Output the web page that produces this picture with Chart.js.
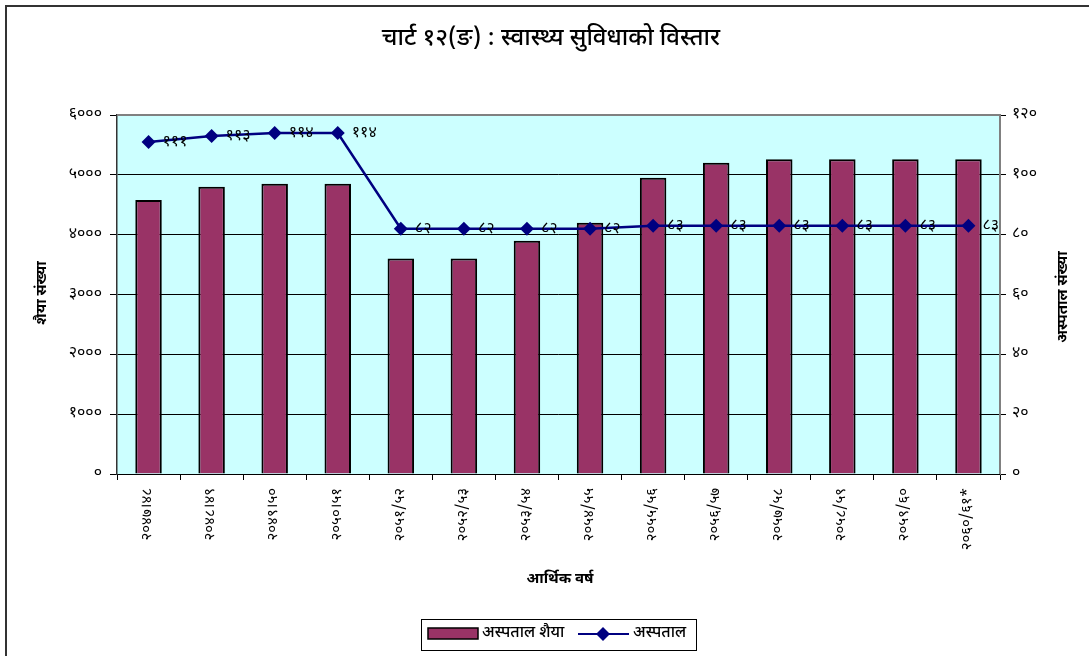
<!DOCTYPE html>
<html>
<head>
<meta charset="utf-8">
<title>स्वास्थ्य सुविधाको विस्तार</title>
<script src="https://cdn.jsdelivr.net/npm/chart.js@4.4.1/dist/chart.umd.min.js"></script>
<style>
  html, body { margin: 0; padding: 0; background: #fff; }
  #wrap { width: 1089px; height: 656px; }
</style>
</head>
<body>
<div id="wrap"><canvas id="myChart" width="1089" height="656"></canvas></div>
<script>
// आर्थिक वर्ष
const years = ['२०४७।४८', '२०४८।४९', '२०४९।५०', '२०५०।५१', '२०५१/५२', '२०५२/५३', '२०५३/५४',
               '२०५४/५५', '२०५५/५६', '२०५६/५७', '२०५७/५८', '२०५८/५९', '२०५९/६०', '२०६०/६१*'];
// अस्पताल शैया (बायाँ अक्ष)
const beds = [4580, 4800, 4850, 4850, 3600, 3600, 3900, 4200, 4950, 5200, 5260, 5260, 5260, 5260];
// अस्पताल संख्या (दायाँ अक्ष)
const hospitals = [111, 113, 114, 114, 82, 82, 82, 82, 83, 83, 83, 83, 83, 83];

const titleText = 'चार्ट १२(ङ) : स्वास्थ्य सुविधाको विस्तार';
const leftTitle = 'शैया संख्या';
const rightTitle = 'अस्पताल संख्या';
const xTitle = 'आर्थिक वर्ष';

const FONT = "'Noto Sans Devanagari', 'Lohit Devanagari', 'Noto Sans', 'FreeSans', sans-serif";
const BAR_COLOR = '#993366';
const LINE_COLOR = '#000080';

// अंकलाई देवनागरीमा बदल्ने
function toNepali(n) {
    const d = '०१२३४५६७८९';
    return String(n).replace(/[0-9]/g, c => d[+c]);
}

// प्लट क्षेत्रको पृष्ठभूमि र किनारा
const plotBg = {
    id: 'plotBg',
    beforeDraw(chart) {
        const { ctx, chartArea: a } = chart;
        ctx.save();
        ctx.fillStyle = '#ccffff';
        ctx.fillRect(a.left, a.top, a.right - a.left, a.bottom - a.top);
        ctx.restore();
    },
    afterDraw(chart) {
        const { ctx, chartArea: a } = chart;
        ctx.save();
        ctx.strokeStyle = '#808080';
        ctx.lineWidth = 2;
        ctx.beginPath();
        ctx.moveTo(a.left, a.top);
        ctx.lineTo(a.right, a.top);
        ctx.lineTo(a.right, a.bottom);
        ctx.stroke();
        ctx.restore();
    }
};

// रेखामा मानका लेबल
const pointLabels = {
    id: 'pointLabels',
    afterDatasetsDraw(chart) {
        const { ctx } = chart;
        const meta = chart.getDatasetMeta(1);
        ctx.save();
        ctx.font = '16px ' + FONT;
        ctx.fillStyle = '#000';
        ctx.textAlign = 'left';
        ctx.textBaseline = 'middle';
        meta.data.forEach((pt, i) => {
            ctx.fillText(toNepali(hospitals[i]), pt.x + 14, pt.y + 1);
        });
        ctx.restore();
    }
};

// शीर्षक, अक्ष शीर्षक, लिजेन्ड र बाहिरी किनारा
const decorations = {
    id: 'decorations',
    afterDraw(chart) {
        const { ctx } = chart;
        ctx.save();
        // बाहिरी किनारा
        ctx.strokeStyle = '#333';
        ctx.lineWidth = 2;
        ctx.beginPath();
        ctx.moveTo(6, 656);
        ctx.lineTo(6, 6);
        ctx.lineTo(1089, 6);
        ctx.stroke();

        ctx.fillStyle = '#000';
        ctx.textAlign = 'center';
        ctx.textBaseline = 'middle';
        ctx.font = '500 24px ' + FONT;
        ctx.fillText(titleText, 551, 41);

        ctx.font = 'bold 15px ' + FONT;
        ctx.fillText(xTitle, 560, 580);

        ctx.save();
        ctx.translate(43, 293);
        ctx.rotate(-Math.PI / 2);
        ctx.fillText(leftTitle, 0, 0);
        ctx.restore();

        ctx.save();
        ctx.translate(1064, 297);
        ctx.rotate(-Math.PI / 2);
        ctx.fillText(rightTitle, 0, 0);
        ctx.restore();

        // लिजेन्ड
        ctx.strokeStyle = '#000';
        ctx.lineWidth = 1;
        ctx.strokeRect(421.5, 619.5, 275, 31);
        ctx.fillStyle = BAR_COLOR;
        ctx.fillRect(428, 628, 50, 11);
        ctx.lineWidth = 1.5;
        ctx.strokeRect(428, 628, 50, 11);
        ctx.fillStyle = '#000';
        ctx.textAlign = 'left';
        ctx.font = '500 16px ' + FONT;
        ctx.fillText('अस्पताल शैया', 482, 634);
        ctx.strokeStyle = LINE_COLOR;
        ctx.lineWidth = 2;
        ctx.beginPath();
        ctx.moveTo(578, 634);
        ctx.lineTo(629, 634);
        ctx.stroke();
        ctx.fillStyle = LINE_COLOR;
        ctx.beginPath();
        ctx.moveTo(603, 627);
        ctx.lineTo(610, 634);
        ctx.lineTo(603, 641);
        ctx.lineTo(596, 634);
        ctx.closePath();
        ctx.fill();
        ctx.fillStyle = '#000';
        ctx.fillText('अस्पताल', 633, 634);
        ctx.restore();
    }
};

const tickFont = { family: FONT, size: 16 };

const ctx = document.getElementById('myChart').getContext('2d');
const myChart = new Chart(ctx, {
    data: {
        labels: years,
        datasets: [{
            type: 'bar',
            label: 'अस्पताल शैया',
            data: beds,
            yAxisID: 'y',
            backgroundColor: BAR_COLOR,
            borderColor: '#000',
            borderWidth: 2,
            borderSkipped: 'bottom',
            categoryPercentage: 1,
            barPercentage: 0.42,
            order: 1
        }, {
            type: 'line',
            label: 'अस्पताल',
            data: hospitals,
            yAxisID: 'y1',
            borderColor: LINE_COLOR,
            backgroundColor: LINE_COLOR,
            borderWidth: 2.5,
            pointStyle: 'rectRot',
            pointRadius: 7,
            pointBorderWidth: 0,
            tension: 0,
            order: 0
        }]
    },
    options: {
        responsive: false,
        animation: false,
        events: [],
        layout: { padding: { top: 115, left: 0, right: 0, bottom: 0 } },
        plugins: {
            legend: { display: false },
            title: { display: false },
            tooltip: { enabled: false }
        },
        scales: {
            x: {
                offset: true,
                grid: { offset: true, drawOnChartArea: false, drawTicks: true, tickLength: 6, color: '#000' },
                border: { color: '#000', width: 1 },
                ticks: {
                    font: { family: FONT, size: 15 },
                    color: '#000',
                    minRotation: 90,
                    maxRotation: 90,
                    padding: 8,
                    autoSkip: false
                },
                afterFit(scale) { scale.height = 182; }
            },
            y: {
                position: 'left',
                min: 0,
                max: 6000,
                grid: { color: '#000', lineWidth: 1, tickLength: 7 },
                border: { color: '#333', width: 1.5 },
                ticks: {
                    stepSize: 1000,
                    font: tickFont,
                    color: '#000',
                    padding: 8,
                    callback: v => toNepali(v)
                },
                afterFit(scale) { scale.width = 117; }
            },
            y1: {
                position: 'right',
                min: 0,
                max: 120,
                grid: { drawOnChartArea: false, color: '#000', tickLength: 6 },
                border: { color: '#808080', width: 1 },
                ticks: {
                    stepSize: 20,
                    font: tickFont,
                    color: '#000',
                    padding: 6,
                    callback: v => toNepali(v)
                },
                afterFit(scale) { scale.width = 89; }
            }
        }
    },
    plugins: [plotBg, pointLabels, decorations]
});
</script>
</body>
</html>
